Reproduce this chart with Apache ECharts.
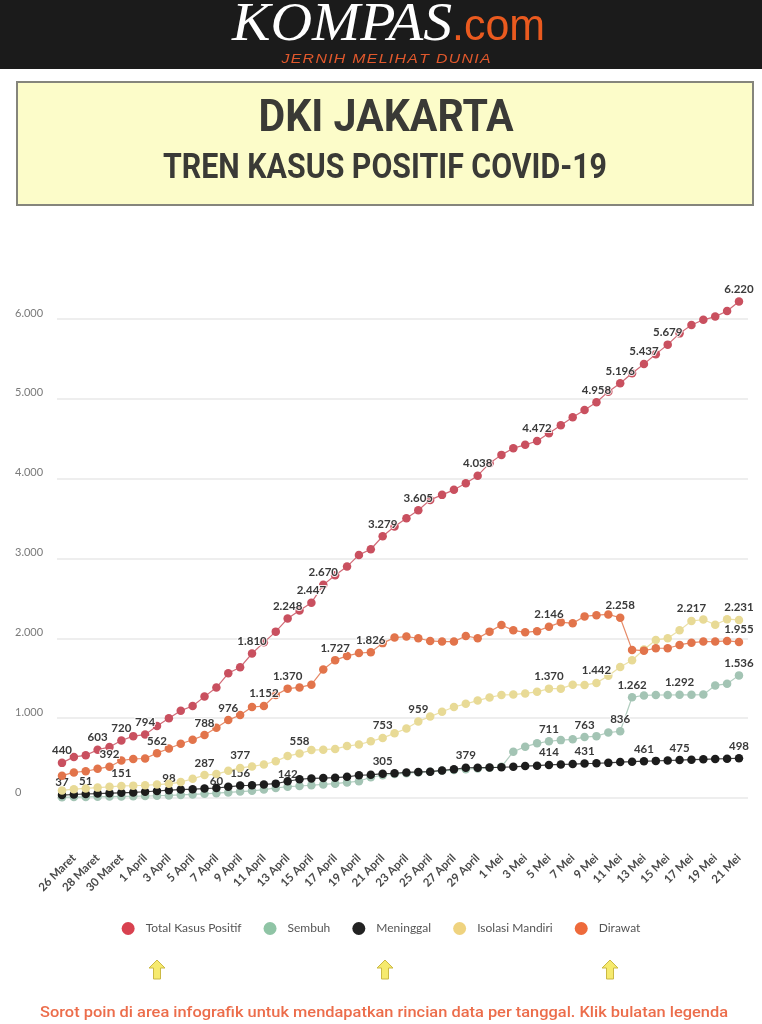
<!DOCTYPE html>
<html><head><meta charset="utf-8">
<script src="https://cdn.jsdelivr.net/npm/echarts@6/dist/echarts.min.js"></script>
<style>html,body{margin:0;padding:0;background:#fff}#c{width:762px;height:1024px}</style>
</head><body><div id="c"></div>
<script>
// ---- categories (dates) ----
const dates = [
 "25 Maret","26 Maret","27 Maret","28 Maret","29 Maret","30 Maret","31 Maret",
 "1 April","2 April","3 April","4 April","5 April","6 April","7 April","8 April","9 April","10 April",
 "11 April","12 April","13 April","14 April","15 April","16 April","17 April","18 April","19 April","20 April",
 "21 April","22 April","23 April","24 April","25 April","26 April","27 April","28 April","29 April","30 April",
 "1 Mei","2 Mei","3 Mei","4 Mei","5 Mei","6 Mei","7 Mei","8 Mei","9 Mei","10 Mei",
 "11 Mei","12 Mei","13 Mei","14 Mei","15 Mei","16 Mei","17 Mei","18 Mei","19 Mei","20 Mei","21 Mei"
];
// ---- series values ----
const totalKasus = [440,515,535,603,640,720,775,794,902,998,1094,1153,1270,1383,1562,1637,1810,1950,2084,2248,2350,2447,2670,2790,2899,3045,3116,3279,3400,3505,3605,3734,3797,3860,3943,4038,4194,4298,4382,4424,4472,4570,4670,4770,4860,4958,5090,5196,5320,5437,5560,5679,5820,5925,5990,6030,6100,6220];
const sembuh = [10,12,14,16,18,20,22,25,28,32,38,45,52,60,70,80,90,105,125,142,150,160,170,180,195,210,260,285,300,310,320,330,340,350,360,370,380,390,580,643,685,711,725,735,763,775,820,836,1262,1285,1290,1290,1292,1292,1295,1410,1430,1536];
const meninggal = [37,44,51,55,60,65,70,78,88,98,105,110,118,125,140,156,160,170,180,210,235,245,250,255,265,285,290,305,310,320,326,330,345,360,379,380,381,385,390,400,405,414,420,425,431,435,440,450,455,461,465,470,475,480,485,490,492,498];
const isolasiMandiri = [95,110,120,130,140,151,155,160,168,178,200,240,287,300,340,377,395,420,460,525,558,600,605,615,650,670,710,753,810,870,959,1020,1080,1140,1180,1220,1260,1290,1295,1310,1330,1370,1370,1420,1415,1442,1530,1640,1725,1860,1980,2000,2100,2217,2235,2170,2240,2231];
const dirawat = [280,320,335,365,392,470,490,495,562,620,680,730,788,880,976,1040,1140,1152,1291,1370,1385,1420,1610,1727,1780,1815,1826,1940,2009,2022,2001,1967,1959,1959,2030,2001,2084,2168,2100,2075,2090,2146,2200,2190,2275,2290,2300,2258,1855,1846,1876,1876,1917,1946,1959,1960,1967,1955];
// ---- which points carry a value label ----
const totalLabelIdx = [0,3,5,7,16,19,21,22,27,30,35,40,45,47,49,51,57];
const sembuhLabelIdx = [13,19,41,44,47,48,52,57];
const meninggalLabelIdx = [0,2,9,15,27,34,41,44,49,52,57];
const isolasiLabelIdx = [5,12,15,20,27,30,41,45,53,57];
const dirawatLabelIdx = [4,8,12,14,17,19,23,26,41,47,57];
// ---- axis ticks ----
const yTicks = [0,1000,2000,3000,4000,5000,6000];
const xLabelIdx = dates.map((d,i)=>i).filter(i=>i%2===1);
const seriesNames = ["Total Kasus Positif","Sembuh","Meninggal","Isolasi Mandiri","Dirawat"];

const fmt = v => String(v).replace(/\B(?=(\d{3})+(?!\d))/g, '.');
const ctx = document.createElement('canvas').getContext('2d');
function fit(text, font, target){ ctx.font = font; return target / ctx.measureText(text).width; }

const dotCol = {t:'#c9505f', s:'#a3c4b4', m:'#1c1c1c', i:'#e8da96', d:'#e2744b'};
const legCol = ['#d8414f','#8fc4a5','#222222','#efd37f','#ee6a3b'];

function mk(name, arr, idx, color, z){
  return {
    name, type:'line', z,
    data: arr.map((v,i)=> idx.includes(i) ? {value:[i,v], label:{show:true}} : [i,v]),
    symbol:'circle', symbolSize:8.5, showSymbol:true, showAllSymbol:true, clip:false,
    itemStyle:{color}, lineStyle:{color, width:1.2, opacity:0.85},
    label:{show:false, position:'top', distance:2, formatter:p=>fmt(p.value[1]),
      fontSize:11.5, fontWeight:'bold', color:'#3a3a3a', fontFamily:'Lato',
      textBorderColor:'rgba(255,255,255,0.85)', textBorderWidth:2},
    emphasis:{disabled:true}, animation:false
  };
}

const f1 = 'italic 54px "Liberation Serif"';
const f2 = '44px "Liberation Sans"';
const f3 = 'italic 12px "Liberation Sans"';
const fT1 = 'bold 45px Roboto';
const fT2 = 'bold 35px Roboto';
const fB = '500 15px Roboto';
const tagline = "JERNIH MELIHAT DUNIA".split('').join('\u200A');
const bottomText = "Sorot poin di area infografik untuk mendapatkan rincian data per tanggal. Klik bulatan legenda";
const arrowPts = [[0,-10],[8,-2],[3.5,-2],[3.5,9],[-3.5,9],[-3.5,-2],[-8,-2]];

const chart = echarts.init(document.getElementById('c'), null, {renderer:'canvas'});
chart.setOption({
  backgroundColor:'#ffffff',
  animation:false,
  grid:{left:57, right:14, top:319, bottom:226},
  xAxis:{type:'value', min:-0.42, max:57.76,
    axisLine:{show:false}, axisTick:{show:false}, splitLine:{show:false},
    axisLabel:{customValues:xLabelIdx, formatter:v=>dates[Math.round(v)], rotate:45, margin:58,
      fontSize:11.5, fontWeight:'bold', color:'#4a4a4a', fontFamily:'Lato'}},
  yAxis:{type:'value', min:0, max:6000, interval:1000,
    axisLine:{show:false}, axisTick:{show:false},
    splitLine:{lineStyle:{color:'#e9e9e9', width:1.5}},
    axisLabel:{formatter:v=>fmt(v), align:'left', margin:42, verticalAlign:'bottom', lineHeight:12,
      fontSize:11, color:'#7a7a7a', fontFamily:'Lato'}},
  legend:{top:917, left:'center', icon:'circle', itemWidth:13, itemHeight:13, itemGap:22,
    textStyle:{fontSize:12, color:'#555', fontFamily:'Lato', padding:[0,0,0,6]},
    data: seriesNames.map((n,k)=>({name:n, itemStyle:{color:legCol[k]}}))},
  series:[
    mk(seriesNames[0], totalKasus, totalLabelIdx, dotCol.t, 2),
    mk(seriesNames[1], sembuh, sembuhLabelIdx, dotCol.s, 3),
    mk(seriesNames[2], meninggal, meninggalLabelIdx, dotCol.m, 4),
    mk(seriesNames[3], isolasiMandiri, isolasiLabelIdx, dotCol.i, 5),
    mk(seriesNames[4], dirawat, dirawatLabelIdx, dotCol.d, 6)
  ],
  graphic:[
    {type:'rect', left:0, top:0, shape:{width:762, height:69}, style:{fill:'#1b1b1b'}, silent:true},
    {type:'text', x:232, y:26, scaleX:fit('KOMPAS', f1, 220), style:{text:'KOMPAS', font:f1, fill:'#ffffff', align:'left', verticalAlign:'middle'}},
    {type:'text', x:452, y:28, scaleX:fit('.com', f2, 93), style:{text:'.com', font:f2, fill:'#ea5a1f', align:'left', verticalAlign:'middle'}},
    {type:'text', x:386, y:60, scaleX:fit(tagline, f3, 209), style:{text:tagline, font:f3, fill:'#e0582c', align:'center', verticalAlign:'middle'}},
    {type:'rect', x:17, y:82, shape:{width:736, height:123}, style:{fill:'#fcfcc9', stroke:'#85857c', lineWidth:2}},
    {type:'text', x:386, y:120, scaleX:fit('DKI JAKARTA', fT1, 255), style:{text:'DKI JAKARTA', font:fT1, fill:'#3a3a36', align:'center', verticalAlign:'middle'}},
    {type:'text', x:385, y:169, scaleX:fit('TREN KASUS POSITIF COVID-19', fT2, 444), style:{text:'TREN KASUS POSITIF COVID-19', font:fT2, fill:'#3a3a36', align:'center', verticalAlign:'middle'}},
    {type:'polygon', x:157, y:970, shape:{points:arrowPts}, style:{fill:'#f6ea6e', stroke:'#cbb944', lineWidth:1}},
    {type:'polygon', x:385, y:970, shape:{points:arrowPts}, style:{fill:'#f6ea6e', stroke:'#cbb944', lineWidth:1}},
    {type:'polygon', x:610, y:970, shape:{points:arrowPts}, style:{fill:'#f6ea6e', stroke:'#cbb944', lineWidth:1}},
    {type:'text', x:384, y:1013, scaleX:fit(bottomText, fB, 688), style:{text:bottomText, font:fB, fill:'#ec6d4b', align:'center', verticalAlign:'middle'}}
  ]
});
</script></body></html>
